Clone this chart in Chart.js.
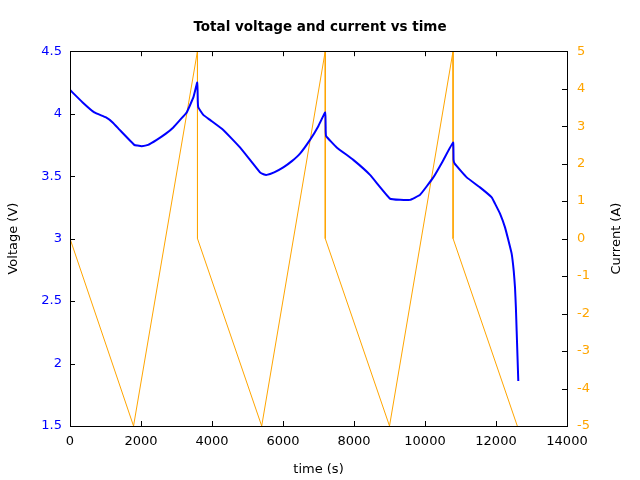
<!DOCTYPE html>
<html>
<head>
<meta charset="utf-8">
<script src="https://cdn.jsdelivr.net/npm/chart.js@4.4.0/dist/chart.umd.min.js"></script>
<style>
  html, body { margin: 0; padding: 0; background: #fff; }
  #wrap { width: 640px; height: 480px; }
</style>
</head>
<body>
<div id="wrap"><canvas id="vcChart"></canvas></div>
<script>
// Voltage trace (s, V)
const voltTime = [0, 357, 685, 1014, 1202, 1400, 1811, 1900, 2020, 2200, 2442, 2700, 2910, 3100, 3287, 3474, 3586, 3600, 3614, 3755, 3944, 4318, 4789, 5352, 5450, 5541, 5750, 6008, 6250, 6479, 6761, 6995, 7190, 7203, 7215, 7513, 7980, 8451, 9014, 9300, 9577, 9859, 10234, 10500, 10790, 10805, 10836, 11175, 11549, 11879, 11972, 12113, 12254, 12346, 12441, 12500, 12535, 12560, 12582, 12605, 12628];
const voltage = [4.19, 4.09, 4.01, 3.97, 3.93, 3.87, 3.75, 3.745, 3.74, 3.75, 3.79, 3.84, 3.89, 3.95, 4.01, 4.13, 4.25, 4.10, 4.05, 3.99, 3.95, 3.87, 3.73, 3.53, 3.515, 3.51, 3.53, 3.57, 3.62, 3.68, 3.79, 3.90, 4.01, 3.86, 3.82, 3.73, 3.63, 3.51, 3.32, 3.31, 3.31, 3.35, 3.49, 3.62, 3.77, 3.63, 3.60, 3.49, 3.41, 3.33, 3.28, 3.20, 3.09, 2.99, 2.88, 2.74, 2.61, 2.45, 2.26, 2.06, 1.86];

// Current trace (s, A)
const currTime = [0, 1790, 3590, 3591, 5400, 7190, 7191, 9000, 10790, 10791, 12600];
const current = [0, -5, 5, 0, -5, 5, 0, -5, 5, 0, -5];

const blue = '#0000ff';
const orange = '#ffa500';
const font = { family: 'DejaVu Sans', size: 13 };

// gnuplot-like frame with inward ticks, plus the right axis title read bottom to top
const framePlugin = {
    id: 'frame',
    afterDraw(chart) {
        const ctx = chart.ctx;
        const a = chart.chartArea;
        const len = 5;
        ctx.save();
        ctx.strokeStyle = '#000';
        ctx.lineWidth = 1;
        ctx.beginPath();
        chart.scales.x.ticks.forEach((t, i) => {
            const px = Math.round(chart.scales.x.getPixelForTick(i)) + 0.5;
            ctx.moveTo(px, a.bottom); ctx.lineTo(px, a.bottom - len);
            ctx.moveTo(px, a.top); ctx.lineTo(px, a.top + len);
        });
        chart.scales.y.ticks.forEach((t, i) => {
            const py = Math.round(chart.scales.y.getPixelForTick(i)) + 0.5;
            ctx.moveTo(a.left, py); ctx.lineTo(a.left + len, py);
        });
        chart.scales.y1.ticks.forEach((t, i) => {
            const py = Math.round(chart.scales.y1.getPixelForTick(i)) + 0.5;
            ctx.moveTo(a.right, py); ctx.lineTo(a.right - len, py);
        });
        ctx.stroke();
        ctx.strokeRect(Math.round(a.left) + 0.5, Math.round(a.top) + 0.5,
            Math.round(a.right - a.left), Math.round(a.bottom - a.top));

        ctx.translate(617, (a.top + a.bottom) / 2);
        ctx.rotate(-Math.PI / 2);
        ctx.fillStyle = '#000';
        ctx.font = '13px "DejaVu Sans"';
        ctx.textAlign = 'center';
        ctx.textBaseline = 'middle';
        ctx.fillText('Current (A)', 0, 0);
        ctx.restore();
    }
};

const plain = v => String(v);

const vcCtx = document.getElementById('vcChart').getContext('2d');
const vcChart = new Chart(vcCtx, {
    type: 'line',
    data: {
        datasets: [{
            label: 'Voltage',
            data: voltTime.map((t, i) => ({ x: t, y: voltage[i] })),
            borderColor: blue,
            borderWidth: 2,
            borderJoinStyle: 'round',
            pointRadius: 0,
            tension: 0.1,   // non-zero also avoids the fast-path column artefact
            yAxisID: 'y'
        }, {
            label: 'Current',
            data: currTime.map((t, i) => ({ x: t, y: current[i] })),
            borderColor: orange,
            borderWidth: 1,
            pointRadius: 0,
            tension: 0,
            yAxisID: 'y1'
        }]
    },
    options: {
        responsive: true,
        maintainAspectRatio: false,
        animation: false,
        layout: { padding: 0 },
        plugins: {
            legend: { display: false },
            tooltip: { enabled: false },
            title: {
                display: true,
                text: 'Total voltage and current vs time',
                color: '#000',
                font: { family: 'DejaVu Sans', size: 13.5, weight: 'bold' },
                padding: { top: 19, bottom: 16 }
            }
        },
        scales: {
            x: {
                type: 'linear',
                min: 0,
                max: 14000,
                grid: { display: false, drawTicks: false, tickLength: 0 },
                border: { display: false },
                ticks: { stepSize: 2000, color: '#000', font: font, padding: 8, maxRotation: 0, callback: plain },
                title: { display: true, text: 'time (s)', color: '#000', font: font, padding: { top: 4, bottom: 3 } },
                afterFit(scale) { scale.height = 54; }
            },
            y: {
                position: 'left',
                min: 1.5,
                max: 4.5,
                grid: { display: false, drawTicks: false, tickLength: 0 },
                border: { display: false },
                ticks: { stepSize: 0.5, color: blue, font: font, padding: 8, callback: plain },
                title: { display: true, text: 'Voltage (V)', color: '#000', font: font, padding: { top: 6, bottom: 2 } },
                afterFit(scale) { scale.width = 70; }
            },
            y1: {
                position: 'right',
                min: -5,
                max: 5,
                grid: { display: false, drawTicks: false, tickLength: 0 },
                border: { display: false },
                ticks: { stepSize: 1, color: orange, font: font, padding: 10, callback: plain },
                afterFit(scale) { scale.width = 73; }
            }
        }
    },
    plugins: [framePlugin]
});
</script>
</body>
</html>
